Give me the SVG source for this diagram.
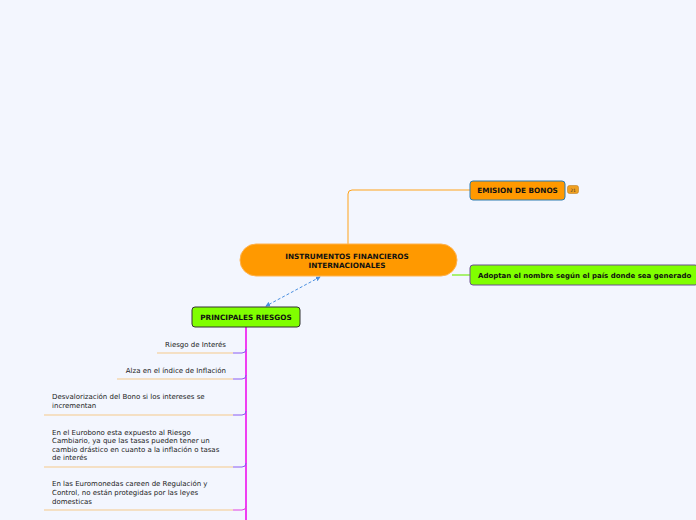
<svg xmlns="http://www.w3.org/2000/svg" width="696" height="520" viewBox="0 0 696 520">
<style>
.t{font-family:"DejaVu Sans",Verdana,sans-serif;font-size:7px;fill:#222}
.b{font-family:"DejaVu Sans",Verdana,sans-serif;font-size:7px;font-weight:bold;fill:#111}
.bu{font-family:"DejaVu Sans",Verdana,sans-serif;font-size:7.3px;font-weight:bold;fill:#111}
.ul{stroke:#f5c98a;stroke-width:1;fill:none}
.cu{stroke:#8a5cf0;stroke-width:1;fill:none}
</style>
<defs>
<marker id="ah" viewBox="0 0 6 6" refX="5" refY="3" markerWidth="5" markerHeight="5" orient="auto-start-reverse">
<path d="M0,0 L6,3 L0,6 z" fill="#4a8fe0"/>
</marker>
</defs>
<rect width="696" height="520" fill="#f3f6fe"/>
<g id="connectors">
<path d="M348,244 V194 Q348,190 352,190 H470" stroke="#ffa31a" stroke-width="1" fill="none"/>
<path d="M452,275 H470" stroke="#a8f070" stroke-width="2" fill="none"/>
<path d="M320,277 L266,306" stroke="#4a8fe0" stroke-width="1" stroke-dasharray="3,2" fill="none" marker-start="url(#ah)" marker-end="url(#ah)"/>
<path d="M246,327 V520" stroke="#ee00ee" stroke-width="1.5" fill="none"/>
<path class="ul" d="M157,353 H233"/>
<path class="cu" d="M233,353 H242 Q246,353 246,349"/>
<path class="ul" d="M117,379 H233"/>
<path class="cu" d="M233,379 H242 Q246,379 246,375"/>
<path class="ul" d="M44,415 H233"/>
<path class="cu" d="M233,415 H242 Q246,415 246,411"/>
<path class="ul" d="M44,467 H233"/>
<path class="cu" d="M233,467 H242 Q246,467 246,463"/>
<path class="ul" d="M44,510 H233"/>
<path d="M233,510 H242 Q246,510 246,506" stroke="#e040e0" stroke-width="1" fill="none"/>
</g>
<g id="central">
<rect x="240" y="244" width="217" height="32" rx="16" fill="#ff9900" stroke="#ffb24d" stroke-width="1"/>
<text class="bu" x="347" y="259" text-anchor="middle">INSTRUMENTOS FINANCIEROS</text>
<text class="bu" x="347" y="268" text-anchor="middle">INTERNACIONALES</text>
</g>
<g id="emision">
<rect x="470" y="181" width="95" height="19" rx="3" fill="#ff9900" stroke="#2a7ab0" stroke-width="1"/>
<text class="bu" x="517.5" y="193" text-anchor="middle">EMISION DE BONOS</text>
<rect x="567.5" y="185.5" width="11" height="8" rx="2" fill="#f0a020" stroke="#c08020" stroke-width="0.6"/>
<text x="573" y="191.5" text-anchor="middle" font-family="DejaVu Sans, sans-serif" font-size="4.5" fill="#333">21</text>
</g>
<g id="adoptan">
<rect x="470" y="265" width="228" height="20" rx="3" fill="#80ff00" stroke="#6b4f8f" stroke-width="1"/>
<text class="b" x="478" y="278">Adoptan el nombre según el país donde sea generado</text>
</g>
<g id="riesgos">
<rect x="192" y="307" width="108" height="20" rx="3" fill="#80ff00" stroke="#333" stroke-width="1"/>
<text class="bu" x="246" y="320" text-anchor="middle">PRINCIPALES RIESGOS</text>
</g>
<g id="item1"><text class="t" x="226" y="347" text-anchor="end">Riesgo de Interés</text></g>
<g id="item2"><text class="t" x="226" y="373" text-anchor="end">Alza en el índice de Inflación</text></g>
<g id="item3">
<text class="t" x="52" y="399">Desvalorización del Bono si los intereses se</text>
<text class="t" x="52" y="408">incrementan</text>
</g>
<g id="item4">
<text class="t" x="52" y="435">En el Eurobono esta expuesto al Riesgo</text>
<text class="t" x="52" y="443">Cambiario, ya que las tasas pueden tener un</text>
<text class="t" x="52" y="452">cambio drástico en cuanto a la inflación o tasas</text>
<text class="t" x="52" y="460">de interés</text>
</g>
<g id="item5">
<text class="t" x="52" y="486">En las Euromonedas careen de Regulación y</text>
<text class="t" x="52" y="495">Control, no están protegidas por las leyes</text>
<text class="t" x="52" y="504">domesticas</text>
</g>
</svg>
